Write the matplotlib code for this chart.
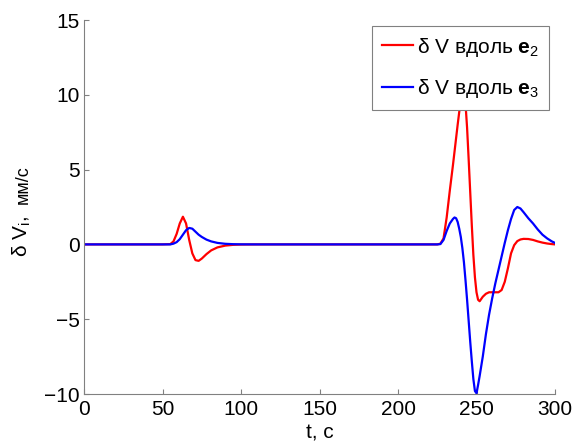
import numpy as np
import matplotlib
matplotlib.use("Agg")
import matplotlib.pyplot as plt

plt.rcParams['font.family'] = ['Liberation Sans', 'DejaVu Sans']
plt.rcParams['mathtext.fontset'] = 'custom'
plt.rcParams['mathtext.rm'] = 'Liberation Sans'
plt.rcParams['mathtext.it'] = 'Liberation Sans'
plt.rcParams['mathtext.bf'] = 'Liberation Sans:bold'

# time, s
t = [0, 50, 55, 57, 59, 61, 63, 65, 67, 69, 71, 73, 75, 78, 81, 85, 90, 95, 100, 110, 120,
     200, 225, 227, 229, 231, 233, 235, 236, 237, 238, 239, 240, 241, 242, 243, 244, 245, 246,
     247, 248, 249, 250, 251, 252, 254, 256, 258, 260, 262, 264, 266, 268, 270, 272, 274,
     276, 278, 280, 283, 286, 289, 292, 295, 298, 300]

# dV along e2, mm/s
dv_e2 = [0, 0, 0.02, 0.2, 0.7, 1.4, 1.85, 1.4, 0.3, -0.6, -1.05, -1.1, -0.95, -0.65, -0.4,
         -0.2, -0.08, -0.03, -0.01, 0, 0,
         0, 0, 0.05, 0.4, 1.8, 3.6, 5.3, 6.2, 7.1, 8.0, 8.85, 9.6, 10.1, 10.2, 9.4, 7.8, 5.7,
         3.5, 1.3, -0.7, -2.2, -3.2, -3.7, -3.8, -3.5, -3.3, -3.2, -3.2, -3.2, -3.2, -3.05,
         -2.5, -1.6, -0.6, -0.05, 0.22, 0.33, 0.37, 0.36, 0.3, 0.2, 0.12, 0.06, 0.02, 0.0]

# dV along e3, mm/s
dv_e3 = [0, 0, 0, 0.05, 0.15, 0.35, 0.65, 0.95, 1.1, 1.05, 0.85, 0.65, 0.5, 0.32, 0.2,
         0.1, 0.04, 0.015, 0.005, 0, 0,
         0, 0, 0.02, 0.3, 0.9, 1.4, 1.7, 1.8, 1.75, 1.5, 1.05, 0.5, -0.25, -1.2, -2.4, -3.7,
         -5.1, -6.5, -7.8, -9.0, -9.8, -9.95, -9.4, -8.8, -7.5, -6.0, -4.7, -3.6, -2.6, -1.7,
         -0.8, 0.1, 0.95, 1.7, 2.3, 2.5, 2.4, 2.15, 1.75, 1.4, 1.0, 0.65, 0.4, 0.2, 0.1]

W, H = 577, 445
fig = plt.figure(figsize=(W/100, H/100), dpi=100)
ax = fig.add_axes([84/W, 1-394/H, 471/W, 374/H])

ax.plot(t, dv_e2, color='red', lw=1.6, label=r'$\delta$ V вдоль $\mathbf{e}_2$')
ax.plot(t, dv_e3, color='blue', lw=1.6, label=r'$\delta$ V вдоль $\mathbf{e}_3$')

ax.set_xlim(0, 300)
ax.set_ylim(-10, 15)
ax.set_xticks([0, 50, 100, 150, 200, 250, 300])
ax.set_yticks([-10, -5, 0, 5, 10, 15])

for s in ['top', 'right']:
    ax.spines[s].set_visible(False)
for s in ['left', 'bottom']:
    ax.spines[s].set_color('#808080')
ax.tick_params(direction='in', length=3.6, color='#808080', labelsize=15)
ax.tick_params(axis='x', pad=4.5)
ax.tick_params(axis='y', pad=3)

ax.set_xlabel('t, с', fontsize=15, labelpad=3)

# y label: main part + units, as in the original
fig.text(28/W, 1-257/H, r'$\delta$ V$_i$,', fontsize=15, rotation=90,
         rotation_mode='anchor', ha='left', va='baseline')
fig.text(28/W, 1-204/H, 'мм/с', fontsize=13, rotation=90,
         rotation_mode='anchor', ha='left', va='baseline')

leg = ax.legend(loc='upper right', fontsize=15, fancybox=False, framealpha=1,
                edgecolor='#808080', handlelength=1.5, handletextpad=0.2,
                borderaxespad=0.3, borderpad=0.45, labelspacing=0.9)
leg.get_frame().set_linewidth(0.8)

fig.savefig('out.png', dpi=100)
